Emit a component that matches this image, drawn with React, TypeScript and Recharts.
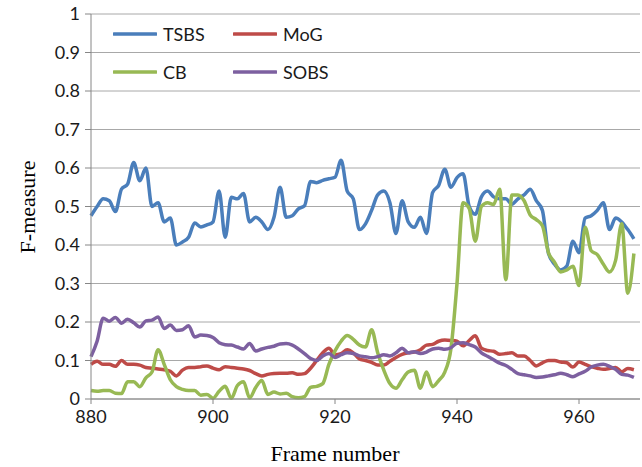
import { LineChart, Line, XAxis, YAxis, CartesianGrid } from "recharts";

// Frame numbers 880..969, one reading per frame
const frames: number[] = [
  880, 881, 882, 883, 884, 885, 886, 887, 888, 889,
  890, 891, 892, 893, 894, 895, 896, 897, 898, 899,
  900, 901, 902, 903, 904, 905, 906, 907, 908, 909,
  910, 911, 912, 913, 914, 915, 916, 917, 918, 919,
  920, 921, 922, 923, 924, 925, 926, 927, 928, 929,
  930, 931, 932, 933, 934, 935, 936, 937, 938, 939,
  940, 941, 942, 943, 944, 945, 946, 947, 948, 949,
  950, 951, 952, 953, 954, 955, 956, 957, 958, 959,
  960, 961, 962, 963, 964, 965, 966, 967, 968, 969,
];

const tsbs: number[] = [
  0.476, 0.5, 0.52, 0.515, 0.487, 0.545, 0.558, 0.614, 0.567, 0.6,
  0.5, 0.51, 0.46, 0.47, 0.4, 0.408, 0.42, 0.457, 0.447, 0.452,
  0.46, 0.54, 0.42, 0.524, 0.52, 0.534, 0.46, 0.472, 0.46, 0.44,
  0.472, 0.55, 0.472, 0.476, 0.494, 0.502, 0.565, 0.562, 0.568, 0.572,
  0.576, 0.62, 0.54, 0.52, 0.44, 0.455, 0.49, 0.53, 0.54, 0.51,
  0.43, 0.515, 0.46, 0.446, 0.472, 0.43, 0.536, 0.555, 0.597, 0.55,
  0.575, 0.585, 0.5, 0.48, 0.525, 0.54, 0.525, 0.52, 0.52, 0.506,
  0.52, 0.53, 0.545, 0.515, 0.49, 0.378, 0.35, 0.335, 0.345, 0.41,
  0.38, 0.47, 0.476, 0.49, 0.51, 0.44, 0.47, 0.46, 0.44, 0.416,
];

const mog: number[] = [
  0.09, 0.098, 0.09, 0.09, 0.085, 0.1, 0.09, 0.09, 0.088, 0.082,
  0.08, 0.078, 0.076, 0.072, 0.06, 0.075, 0.082, 0.082, 0.084, 0.086,
  0.08, 0.076, 0.084, 0.082, 0.08, 0.078, 0.074, 0.066, 0.06, 0.064,
  0.066, 0.067, 0.067, 0.068, 0.064, 0.066, 0.08, 0.1, 0.12, 0.132,
  0.115, 0.118, 0.128, 0.12, 0.104, 0.1, 0.095, 0.088, 0.088, 0.098,
  0.108, 0.116, 0.12, 0.122, 0.128, 0.14, 0.142, 0.15, 0.153, 0.152,
  0.15, 0.138, 0.152, 0.164, 0.132, 0.126, 0.124, 0.116, 0.118, 0.12,
  0.112, 0.112, 0.1, 0.086, 0.094, 0.1, 0.1, 0.096, 0.094, 0.083,
  0.096, 0.09, 0.084, 0.08, 0.077, 0.079, 0.082, 0.071, 0.079, 0.076,
];

const cb: number[] = [
  0.022, 0.02, 0.022, 0.022, 0.015, 0.014, 0.045, 0.045, 0.032, 0.055,
  0.07, 0.128, 0.09, 0.05, 0.032, 0.025, 0.022, 0.022, 0.01, 0.012,
  0.002, 0.02, 0.033, 0.002, 0.035, 0.045, 0.003, 0.03, 0.048, 0.012,
  0.018, 0.013, 0.015, 0.006, 0.003, 0.006, 0.03, 0.033, 0.04, 0.09,
  0.125, 0.15, 0.165, 0.155, 0.14, 0.135, 0.18, 0.12, 0.075, 0.04,
  0.028, 0.05, 0.07, 0.075, 0.028, 0.07, 0.032, 0.048, 0.07, 0.13,
  0.3, 0.51, 0.495, 0.41, 0.5, 0.51, 0.505, 0.545, 0.31, 0.53,
  0.53, 0.515, 0.478, 0.466, 0.45, 0.38, 0.355, 0.33, 0.335, 0.345,
  0.295, 0.446, 0.385, 0.375, 0.35, 0.33, 0.36, 0.455, 0.275, 0.378,
];

const sobs: number[] = [
  0.11, 0.15, 0.21, 0.202, 0.212, 0.197, 0.207, 0.198, 0.187, 0.203,
  0.205, 0.213, 0.183, 0.192, 0.178, 0.18, 0.19, 0.161, 0.166, 0.165,
  0.16, 0.146, 0.141, 0.14, 0.135, 0.13, 0.144, 0.125, 0.13, 0.134,
  0.137, 0.143, 0.144, 0.14, 0.13, 0.118, 0.105, 0.1, 0.112, 0.118,
  0.108, 0.115, 0.12, 0.118, 0.112, 0.11, 0.107, 0.11, 0.115, 0.112,
  0.12, 0.132, 0.12, 0.123, 0.118, 0.122, 0.13, 0.132, 0.129, 0.133,
  0.145, 0.146, 0.141, 0.135, 0.12, 0.111, 0.102, 0.093, 0.087, 0.077,
  0.066, 0.063, 0.06, 0.056, 0.057, 0.06, 0.063, 0.067, 0.063, 0.058,
  0.065, 0.072, 0.083, 0.088, 0.09, 0.085, 0.077, 0.064, 0.062, 0.056,
];

const xTicks: number[] = [880, 900, 920, 940, 960];
const yTicks: number[] = [0, 0.1, 0.2, 0.3, 0.4, 0.5, 0.6, 0.7, 0.8, 0.9, 1];

const series = [
  { key: "TSBS", values: tsbs, color: "#4a7ebb" },
  { key: "MoG", values: mog, color: "#be4b48" },
  { key: "CB", values: cb, color: "#98b954" },
  { key: "SOBS", values: sobs, color: "#7d60a0" },
];

const data = frames.map((f, i) => {
  const row: { [k: string]: number } = { frame: f };
  series.forEach((s) => {
    row[s.key] = s.values[i];
  });
  return row;
});

const tickFont = { fontFamily: "Lato, 'Open Sans', sans-serif", fontSize: 18, fill: "#1a1a1a" };
const titleFont = "'Liberation Serif', 'Times New Roman', serif";

// legend sits inside the plot, top-left, drawn as an overlay
const CustomLegend = () => (
  <div
    style={{
      position: "absolute",
      top: 15,
      left: 113,
      display: "grid",
      gridTemplateColumns: "120px 120px",
      gridAutoRows: "38px",
      fontFamily: "Lato, sans-serif",
      fontSize: 18,
      color: "#1a1a1a",
    }}
  >
    {series.map((s) => (
      <div key={s.key} style={{ display: "flex", alignItems: "center", gap: 6 }}>
        <svg width={44} height={6}>
          <line x1={1} y1={3} x2={43} y2={3} stroke={s.color} strokeWidth={3.5} strokeLinecap="round" />
        </svg>
        <span>{s.key}</span>
      </div>
    ))}
  </div>
);

export default function App() {
  return (
    <div style={{ position: "relative", width: 642, height: 467, background: "#fff" }}>
      <style>{"body{margin:0}"}</style>
      <LineChart width={642} height={467} data={data} margin={{ top: 14, right: 2, bottom: 0, left: 0 }}>
        <CartesianGrid vertical={false} stroke="#a8a8a8" />
        <XAxis
          dataKey="frame"
          type="number"
          domain={[880, 970]}
          ticks={xTicks}
          height={68}
          tickSize={5}
          tickMargin={6}
          stroke="#868686"
          tick={tickFont}
          label={{
            content: () => (
              <text x={335} y={461} textAnchor="middle" fontFamily={titleFont} fontSize={22} fill="#000">
                Frame number
              </text>
            ),
          }}
        />
        <YAxis
          type="number"
          domain={[0, 1]}
          ticks={yTicks}
          width={91}
          tickSize={6}
          tickMargin={5}
          stroke="#868686"
          tick={tickFont}
          tickFormatter={(v: number) => String(Math.round(v * 10) / 10)}
          label={{
            content: () => (
              <text
                x={27}
                y={207}
                transform="rotate(-90 27 207)"
                textAnchor="middle"
                dominantBaseline="central"
                fontFamily={titleFont}
                fontSize={22}
                fill="#000"
              >
                F-measure
              </text>
            ),
          }}
        />
        {series.map((s) => (
          <Line
            key={s.key}
            dataKey={s.key}
            type="monotone"
            stroke={s.color}
            strokeWidth={3.5}
            dot={false}
            isAnimationActive={false}
          />
        ))}
      </LineChart>
      <CustomLegend />
    </div>
  );
}
